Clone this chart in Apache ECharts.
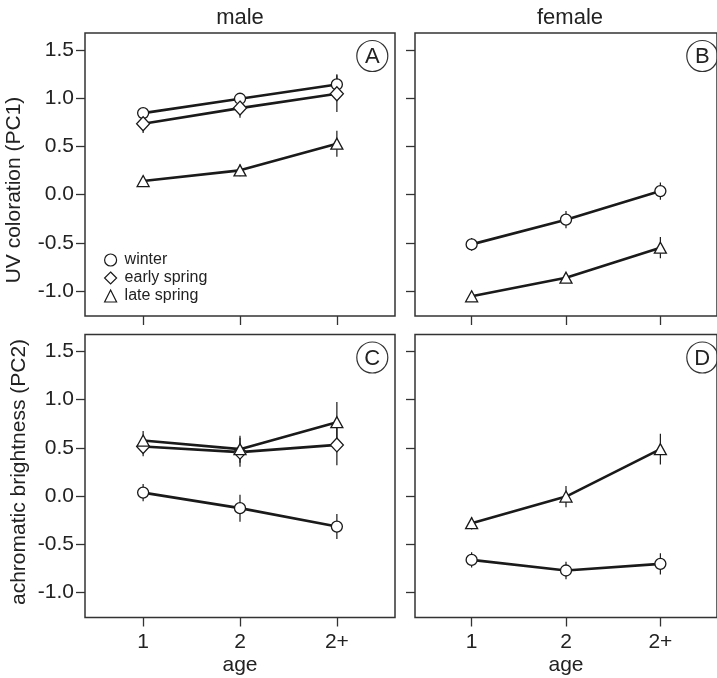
<!DOCTYPE html>
<html>
<head>
<meta charset="utf-8">
<script src="https://cdn.jsdelivr.net/npm/echarts@6/dist/echarts.min.js"></script>
<style>
html,body{margin:0;padding:0;background:#fff;}
#chart{width:717px;height:678px;}
</style>
</head>
<body>
<div id="chart"></div>
<script>
// ---- data ----
const ages = ['1', '2', '2+'];
const seasons = ['winter', 'early spring', 'late spring'];
const yTicks = [-1.0, -0.5, 0.0, 0.5, 1.0, 1.5];
const colTitles = ['male', 'female'];
const rowTitles = ['UV coloration (PC1)', 'achromatic brightness (PC2)'];
const panelLetters = ['A', 'B', 'C', 'D'];

// Panel A: male, PC1
const winterA = [0.845, 0.994, 1.142];
const winterA_se = [0.04, 0.04, 0.105];
const earlyA = [0.735, 0.897, 1.046];
const earlyA_se = [0.097, 0.10, 0.19];
const lateA = [0.141, 0.252, 0.528];
const lateA_se = [0.05, 0.06, 0.135];

// Panel B: female, PC1
const winterB = [-0.515, -0.259, 0.037];
const winterB_se = [0.065, 0.09, 0.09];
const lateB = [-1.053, -0.86, -0.549];
const lateB_se = [0.035, 0.05, 0.11];

// Panel C: male, PC2
const winterC = [0.037, -0.124, -0.315];
const winterC_se = [0.09, 0.14, 0.13];
const earlyC = [0.514, 0.456, 0.531];
const earlyC_se = [0.10, 0.15, 0.21];
const lateC = [0.576, 0.487, 0.766];
const lateC_se = [0.10, 0.14, 0.21];

// Panel D: female, PC2
const winterD = [-0.66, -0.77, -0.701];
const winterD_se = [0.08, 0.09, 0.11];
const lateD = [-0.28, -0.004, 0.487];
const lateD_se = [0.065, 0.11, 0.16];

// ---- layout ----
const PW = 310, PH = 283;
const LEFTS = [85, 415];
const TOPS = [33, 334.5];
const XMIN = 0.4, XMAX = 3.6;
const YMIN = -1.257, YMAX = 1.675;
const INK = '#1a1a1a', FRAME = '#333', TXT = '#222';
const FONT = 'Liberation Sans, Arial, Helvetica, sans-serif';

const symbols = {
  'winter': {symbol: 'circle', size: 11},
  'early spring': {symbol: 'diamond', size: [13, 14]},
  'late spring': {symbol: 'triangle', size: [12, 11]}
};

const panels = [
  [['winter', winterA, winterA_se], ['early spring', earlyA, earlyA_se], ['late spring', lateA, lateA_se]],
  [['winter', winterB, winterB_se], ['late spring', lateB, lateB_se]],
  [['winter', winterC, winterC_se], ['early spring', earlyC, earlyC_se], ['late spring', lateC, lateC_se]],
  [['winter', winterD, winterD_se], ['late spring', lateD, lateD_se]]
];

const grids = [], xAxes = [], yAxes = [], series = [], graphics = [];

for (let p = 0; p < 4; p++) {
  const col = p % 2, row = Math.floor(p / 2);
  const left = LEFTS[col], top = TOPS[row];
  grids.push({left: left, top: top, width: PW, height: PH, show: true,
    borderColor: FRAME, borderWidth: 1.5, backgroundColor: 'transparent', containLabel: false});
  xAxes.push({
    type: 'value', gridIndex: p, min: XMIN, max: XMAX, position: 'bottom',
    axisLine: {show: false, onZero: false},
    splitLine: {show: false},
    axisTick: {show: true, inside: false, length: 9, customValues: [1, 2, 3],
      lineStyle: {color: FRAME, width: 1.3}},
    axisLabel: {show: row === 1, customValues: [1, 2, 3], margin: 14,
      fontSize: 21, color: TXT, fontFamily: FONT,
      formatter: v => ages[Math.round(v) - 1]},
    name: row === 1 ? 'age' : '', nameLocation: 'middle', nameGap: 37,
    nameTextStyle: {fontSize: 21, color: TXT, fontFamily: FONT}
  });
  yAxes.push({
    type: 'value', gridIndex: p, min: YMIN, max: YMAX, position: 'left',
    axisLine: {show: false, onZero: false},
    splitLine: {show: false},
    axisTick: {show: true, inside: false, length: 9, customValues: yTicks,
      lineStyle: {color: FRAME, width: 1.3}},
    axisLabel: {show: col === 0, customValues: yTicks, margin: 11,
      fontSize: 21, color: TXT, fontFamily: FONT,
      formatter: v => v.toFixed(1)}
  });
  panels[p].forEach(([name, means, se]) => {
    series.push({
      type: 'custom', name: name, xAxisIndex: p, yAxisIndex: p, z: 1,
      silent: true, legendHoverLink: false,
      data: means.map((m, i) => [i + 1, m, se[i]]),
      renderItem: (params, api) => {
        const x = api.value(0), m = api.value(1), s = api.value(2);
        const a = api.coord([x, m - s]), b = api.coord([x, m + s]);
        return {type: 'line', shape: {x1: a[0], y1: a[1], x2: b[0], y2: b[1]},
          style: {stroke: INK, lineWidth: 1.2}};
      }
    });
    series.push({
      type: 'line', name: name, xAxisIndex: p, yAxisIndex: p, z: 3,
      data: means.map((m, i) => [i + 1, m]),
      symbol: symbols[name].symbol, symbolSize: symbols[name].size,
      showAllSymbol: true,
      lineStyle: {color: INK, width: 2.6},
      itemStyle: {color: '#fff', borderColor: INK, borderWidth: 1.3},
      emphasis: {disabled: true}
    });
  });
  // panel letter
  const cx = left + PW - 22.7, cy = top + 23;
  graphics.push({type: 'circle', shape: {cx: cx, cy: cy, r: 15.5},
    style: {fill: 'transparent', stroke: FRAME, lineWidth: 1.2}, z: 10});
  graphics.push({type: 'text', x: cx, y: cy + 1, z: 10,
    style: {text: panelLetters[p], fontSize: 22, fill: TXT, fontFamily: FONT,
      textAlign: 'center', textVerticalAlign: 'middle'}});
}

// column titles
colTitles.forEach((t, c) => {
  graphics.push({type: 'text', x: LEFTS[c] + PW / 2, y: 18,
    style: {text: t, fontSize: 22, fill: TXT, fontFamily: FONT,
      textAlign: 'center', textVerticalAlign: 'middle'}});
});
// row titles
const rowTitlePos = [[14, 190], [19, 472]];
rowTitles.forEach((t, r) => {
  graphics.push({type: 'text', x: rowTitlePos[r][0], y: rowTitlePos[r][1], rotation: Math.PI / 2,
    style: {text: t, fontSize: 21, fill: TXT, fontFamily: FONT,
      textAlign: 'center', textVerticalAlign: 'middle'}});
});

const chart = echarts.init(document.getElementById('chart'), null, {renderer: 'canvas'});
chart.setOption({
  animation: false,
  backgroundColor: '#fff',
  grid: grids,
  xAxis: xAxes,
  yAxis: yAxes,
  legend: {
    show: true, orient: 'vertical', left: 104, top: 252, padding: 0,
    selectedMode: false,
    itemWidth: 12, itemHeight: 12, itemGap: 2,
    textStyle: {fontSize: 16, lineHeight: 16, color: TXT, fontFamily: FONT, padding: [0, 0, 0, 3]},
    itemStyle: {color: '#fff', borderColor: INK, borderWidth: 1.2},
    data: seasons.map(s => ({name: s, icon: symbols[s].symbol}))
  },
  series: series,
  graphic: graphics
});
</script>
</body>
</html>
